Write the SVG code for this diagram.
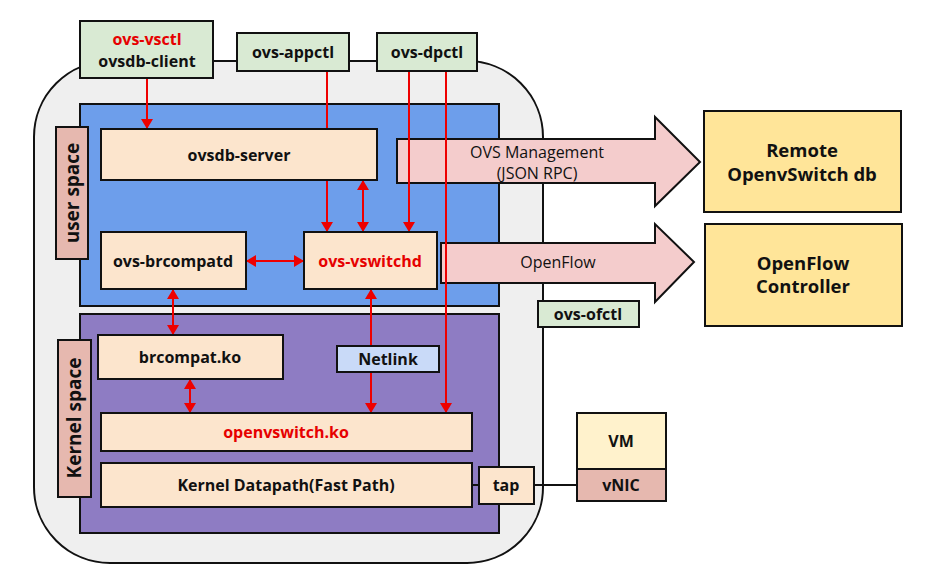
<svg xmlns="http://www.w3.org/2000/svg" width="938" height="572" viewBox="0 0 938 572">
<defs>
<marker id="ah" viewBox="0 0 10 12" markerWidth="10" markerHeight="12" refX="10" refY="6" orient="auto-start-reverse" markerUnits="userSpaceOnUse">
<path d="M0,0 L10,6 L0,12 z" fill="#ee0000"/>
</marker>
<style>
.box{stroke:#111;stroke-width:2}
.beige{fill:#fce5cd}
.green{fill:#d9ead3}
.lbl{fill:#e6b8af}
.t{font-family:"Open Sans","DejaVu Sans",sans-serif;font-weight:700;font-size:16px;fill:#111;text-anchor:middle}
.r{fill:#e60000}
.n{font-family:"Open Sans","DejaVu Sans",sans-serif;font-weight:400;font-size:16px;fill:#111;text-anchor:middle}
.big{font-size:18.5px}
.c{stroke:#ee0000;stroke-width:2;fill:none}
.blk{stroke:#111;stroke-width:2;fill:none}
.pink{fill:#f4cccc;stroke:#111;stroke-width:2}
</style>
</defs>
<rect width="938" height="572" fill="#fff"/>
<g id="host">
<rect x="34" y="61" width="509" height="502" rx="76" ry="76" fill="#efefef" stroke="#111" stroke-width="2"/>
</g>
<g id="user-space">
<rect x="80" y="104" width="419" height="202" fill="#6d9eeb" class="box"/>
<rect x="56" y="127" width="32" height="132" class="box lbl" stroke-width="1.5"/>
<text class="t" style="font-size:19px" transform="translate(79,193) rotate(-90)">user space</text>
</g>
<g id="kernel-space">
<rect x="80" y="314" width="419" height="219" fill="#8e7cc3" class="box"/>
<rect x="58" y="340" width="33" height="157" class="box lbl" stroke-width="1.5"/>
<text class="t" style="font-size:19px" transform="translate(81,418) rotate(-90)">Kernel space</text>
</g>
<g id="connectors">
<polygon class="pink" points="397,139 655,139 655,117 700,162 655,206 655,183 397,183"/>
<text class="n" x="537" y="158">OVS Management</text>
<text class="n" x="537" y="179">(JSON RPC)</text>
<polygon class="pink" points="441,243 655,243 655,224 694,262 655,302 655,283 441,283"/>
<text class="n" x="558" y="268">OpenFlow</text>
<line class="c" x1="147" y1="78" x2="147" y2="129" marker-end="url(#ah)"/>
<line class="c" x1="327" y1="71" x2="327" y2="232" marker-end="url(#ah)"/>
<line class="c" x1="363" y1="180" x2="363" y2="232" marker-start="url(#ah)" marker-end="url(#ah)"/>
<line class="c" x1="409" y1="71" x2="409" y2="232" marker-end="url(#ah)"/>
<line class="c" x1="446" y1="71" x2="446" y2="413" marker-end="url(#ah)"/>
<line class="c" x1="246" y1="261" x2="304" y2="261" marker-start="url(#ah)" marker-end="url(#ah)"/>
<line class="c" x1="173" y1="289" x2="173" y2="335" marker-start="url(#ah)" marker-end="url(#ah)"/>
<line class="c" x1="371" y1="289" x2="371" y2="413" marker-start="url(#ah)" marker-end="url(#ah)"/>
<line class="c" x1="190" y1="379" x2="190" y2="413" marker-start="url(#ah)" marker-end="url(#ah)"/>
<line class="blk" x1="472" y1="485" x2="479" y2="485"/>
<line class="blk" x1="534" y1="485" x2="577" y2="485"/>
</g>
<g id="ovs-vsctl">
<rect x="80" y="21" width="133" height="57" class="box green"/>
<text class="t r" x="147" y="45">ovs-vsctl</text>
<text class="t" x="147" y="67">ovsdb-client</text>
</g>
<g id="ovs-appctl">
<rect x="237" y="33" width="112" height="38" class="box green"/>
<text class="t" x="293" y="58">ovs-appctl</text>
</g>
<g id="ovs-dpctl">
<rect x="377" y="33" width="100" height="38" class="box green"/>
<text class="t" x="427" y="58">ovs-dpctl</text>
</g>
<g id="ovsdb-server">
<rect x="101" y="129" width="276" height="51" class="box beige"/>
<text class="t" x="239" y="161">ovsdb-server</text>
</g>
<g id="ovs-brcompatd">
<rect x="101" y="232" width="145" height="57" class="box beige"/>
<text class="t" x="173" y="267">ovs-brcompatd</text>
</g>
<g id="ovs-vswitchd">
<rect x="304" y="232" width="133" height="57" class="box beige"/>
<text class="t r" x="370" y="267">ovs-vswitchd</text>
</g>
<g id="ovs-ofctl">
<rect x="538" y="301" width="101" height="26" class="box green" stroke-width="1.5"/>
<text class="t" x="588" y="320">ovs-ofctl</text>
</g>
<g id="remote-db">
<rect x="704" y="111" width="197" height="101" class="box" fill="#ffe599"/>
<text class="t big" x="802" y="157">Remote</text>
<text class="t big" x="802" y="181">OpenvSwitch db</text>
</g>
<g id="openflow-controller">
<rect x="705" y="224" width="197" height="102" class="box" fill="#ffe599"/>
<text class="t big" x="803" y="270">OpenFlow</text>
<text class="t big" x="803" y="293">Controller</text>
</g>
<g id="brcompat-ko">
<rect x="98" y="335" width="185" height="44" class="box beige"/>
<text class="t" x="190" y="363">brcompat.ko</text>
</g>
<g id="netlink">
<rect x="337" y="346" width="102" height="26" class="box" fill="#c9daf8"/>
<text class="t" x="388" y="365">Netlink</text>
</g>
<g id="openvswitch-ko">
<rect x="101" y="413" width="371" height="38" class="box beige"/>
<text class="t r" x="286" y="438">openvswitch.ko</text>
</g>
<g id="kernel-datapath">
<rect x="101" y="463" width="371" height="44" class="box beige"/>
<text class="t" x="286" y="491">Kernel Datapath(Fast Path)</text>
</g>
<g id="tap">
<rect x="479" y="467" width="55" height="37" class="box beige"/>
<text class="t" x="506" y="491">tap</text>
</g>
<g id="vm">
<rect x="577" y="413" width="89" height="56" class="box" fill="#fff2cc"/>
<text class="t" x="621" y="447">VM</text>
<rect x="577" y="469" width="89" height="32" class="box lbl"/>
<text class="t" x="621" y="491">vNIC</text>
</g>
</svg>
